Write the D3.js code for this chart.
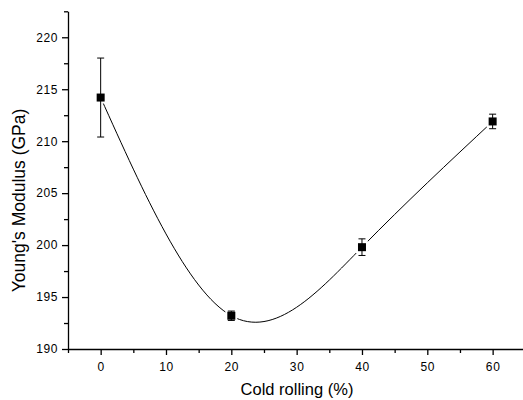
<!DOCTYPE html>
<html>
<head>
<meta charset="utf-8">
<script src="https://cdn.jsdelivr.net/npm/d3@7"></script>
<style>
  body { margin: 0; background: #fff; }
  svg text { font-family: "Liberation Sans", Arial, sans-serif; fill: #000; }
</style>
</head>
<body>
<div id="main"></div>
<script>
const rolling = [0, 20, 40, 60];
const modulus = [214.2, 193.2, 199.8, 211.9];
const errors = [3.8, 0.45, 0.8, 0.7];

const xMajor = [0, 10, 20, 30, 40, 50, 60];
const xMinor = [-5, 5, 15, 25, 35, 45, 55, 65];
const yMajor = [190, 195, 200, 205, 210, 215, 220];
const yMinor = [192.5, 197.5, 202.5, 207.5, 212.5, 217.5, 222.5];

const width = 523, height = 400;
const left = 68, bottom = 349;

const svg = d3.select('#main')
  .append('svg')
  .attr('width', width)
  .attr('height', height);

const x = d3.scaleLinear().domain([-5, 65]).range([left, 525.3]);
const y = d3.scaleLinear().domain([190, 222.5]).range([bottom, 11.3]);

const points = rolling.map((r, i) => ({ x: r, y: modulus[i], e: errors[i] }));

// axes: major ticks with labels, minor ticks without
const xAxis = svg.append('g').attr('transform', `translate(0,${bottom})`);
xAxis.call(d3.axisBottom(x).tickValues(xMajor).tickSize(6).tickSizeOuter(0).tickFormat(d3.format('d')));
xAxis.append('g').call(d3.axisBottom(x).tickValues(xMinor).tickSize(4).tickSizeOuter(0).tickFormat(''))
  .select('.domain').remove();

const yAxis = svg.append('g').attr('transform', `translate(${left},0)`);
yAxis.call(d3.axisLeft(y).tickValues(yMajor).tickSize(6).tickSizeOuter(0).tickFormat(d3.format('d')));
yAxis.append('g').call(d3.axisLeft(y).tickValues(yMinor).tickSize(4).tickSizeOuter(0).tickFormat(''))
  .select('.domain').remove();

svg.selectAll('.domain, .tick line').attr('stroke', '#000').attr('stroke-width', 1.3);
xAxis.selectAll('.tick text').attr('dy', null).attr('y', 22).style('font-size', '12px').style('letter-spacing', '0.6px');
yAxis.selectAll('.tick text').attr('x', -10).style('font-size', '12px').style('letter-spacing', '0.6px');

// smooth curve through the means
svg.append('path')
  .datum(points)
  .attr('fill', 'none')
  .attr('stroke', '#000')
  .attr('stroke-width', 1)
  .attr('d', d3.line().x(d => x(d.x)).y(d => y(d.y)).curve(d3.curveNatural));

// white gap round the symbols
svg.selectAll('.halo')
  .data(points)
  .enter().append('rect')
  .attr('x', d => x(d.x) - 6)
  .attr('y', d => y(d.y) - 6)
  .attr('width', 12)
  .attr('height', 12)
  .attr('fill', '#fff');

const bars = svg.selectAll('.err')
  .data(points)
  .enter().append('g')
  .attr('stroke', '#000')
  .attr('stroke-width', 1);

bars.append('line')
  .attr('x1', d => x(d.x)).attr('x2', d => x(d.x))
  .attr('y1', d => y(d.y - d.e)).attr('y2', d => y(d.y + d.e));
bars.append('line')
  .attr('x1', d => x(d.x) - 3.5).attr('x2', d => x(d.x) + 3.5)
  .attr('y1', d => y(d.y + d.e)).attr('y2', d => y(d.y + d.e));
bars.append('line')
  .attr('x1', d => x(d.x) - 3.5).attr('x2', d => x(d.x) + 3.5)
  .attr('y1', d => y(d.y - d.e)).attr('y2', d => y(d.y - d.e));

svg.selectAll('.pt')
  .data(points)
  .enter().append('rect')
  .attr('x', d => x(d.x) - 4)
  .attr('y', d => y(d.y) - 4)
  .attr('width', 8)
  .attr('height', 8)
  .attr('fill', '#000');

svg.append('text')
  .attr('x', 297)
  .attr('y', 395)
  .attr('text-anchor', 'middle')
  .style('font-size', '16.5px')
  .text('Cold rolling (%)');

svg.append('text')
  .attr('transform', 'translate(25,200.5) rotate(-90)')
  .attr('text-anchor', 'middle')
  .style('font-size', '17.5px')
  .text("Young's Modulus (GPa)");
</script>
</body>
</html>
